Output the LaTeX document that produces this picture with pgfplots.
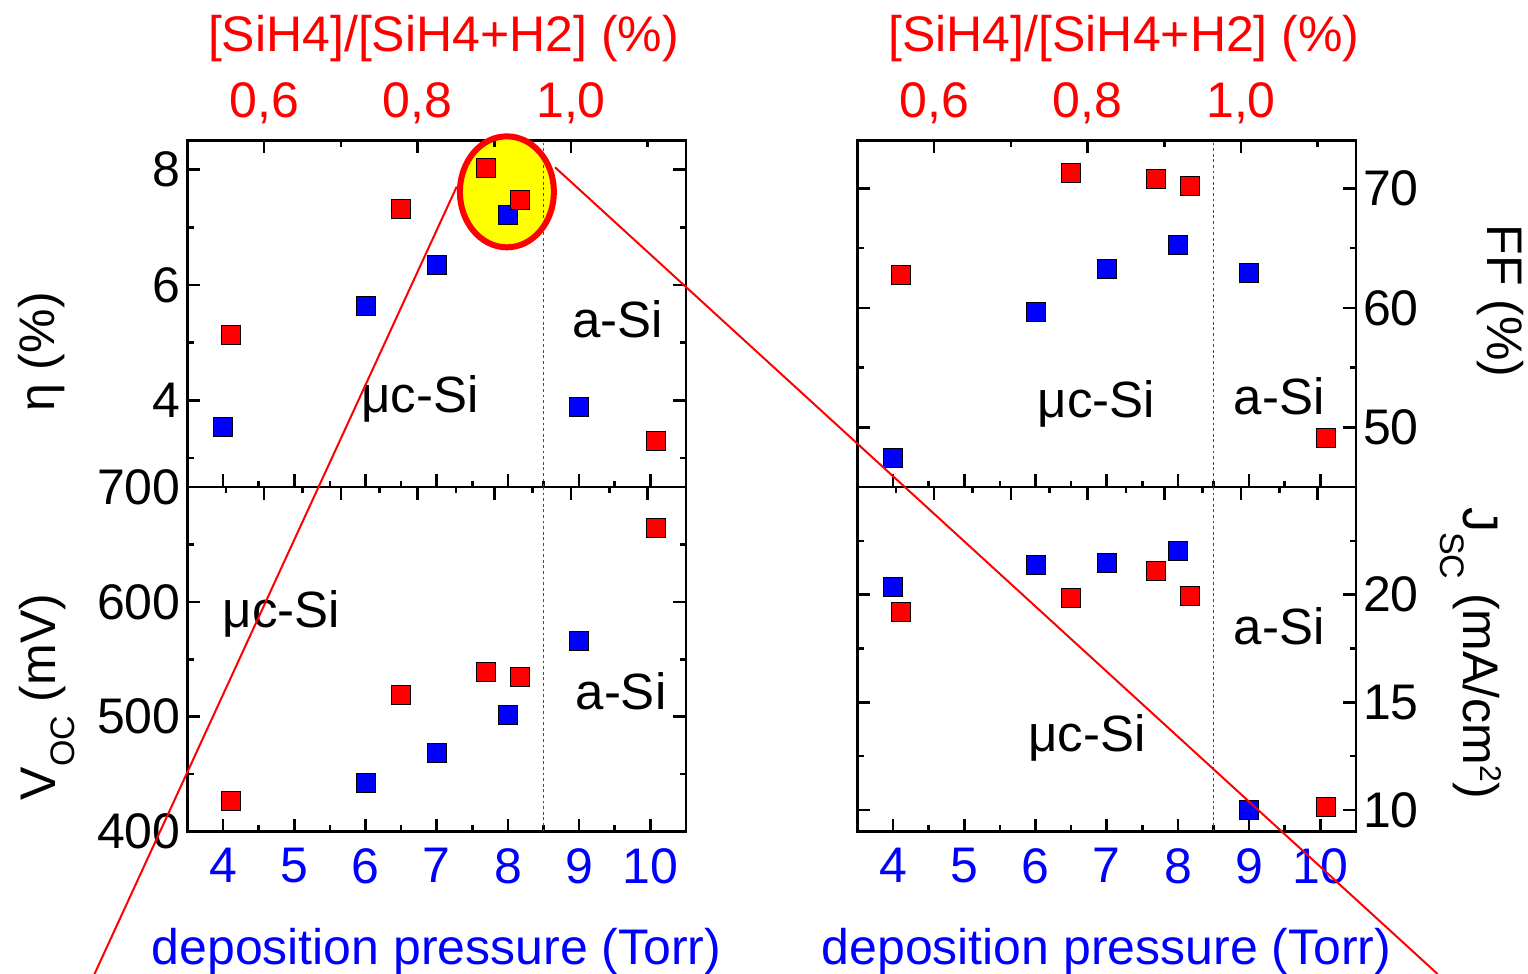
\documentclass[border=0pt]{standalone}
\usepackage{fontspec}
\setmainfont{Liberation Sans}
\usepackage{pgfplots}
\pgfplotsset{compat=1.18}

\definecolor{ptred}{RGB}{255,0,0}
\definecolor{ptblue}{RGB}{0,0,255}
\definecolor{hilite}{RGB}{255,255,0}

\newcommand{\lbl}{\fontsize{25}{30}\selectfont}
\newcommand{\phase}{\fontsize{25.5}{30}\selectfont}

\tikzset{boundary/.style={line width=0.6pt, black!70, dash pattern=on 1.4pt off 1.4pt}}

\pgfplotsset{
  panel/.style={
    scale only axis, width=249.25pt, clip=false,
    axis line style={line width=1.3pt, line cap=rect},
    tick style={line width=1.3pt, black},
    major tick length=6.3pt, minor tick length=3.2pt,
    tick label style={font=\lbl},
    /pgf/number format/assume math mode=true,
  },
  pressure/.style={panel,
    xmin=3.5, xmax=10.5,
    xtick={4,...,10}, minor xtick={4.5,5.5,...,9.5},
    xtick pos=left,
    xticklabel style={text=ptblue, yshift=-5pt},
  },
  ratio/.style={panel,
    xmin=0.5, xmax=1.15,
    xtick pos=right, xticklabel pos=right,
    hide y axis,
    axis line style={draw=none},
    xticklabel style={text=ptred, yshift=5pt},
  },
  % the upper panels carry labelled ratio ticks every 0.2
  ratio top/.style={ratio,
    xtick={0.6,0.8,1.0}, minor xtick={0.7,0.9,1.1},
    xticklabels={{0,6},{0,8},{1,0}},
  },
  % the lower panels repeat the ratio scale without labels
  ratio bottom/.style={ratio,
    xtick={0.6,0.7,...,1.1}, minor xtick={0.55,0.65,...,1.05},
    xticklabels={},
  },
  toprow/.style={height=173.15pt},
  botrow/.style={height=172.25pt},
  blue pts/.style={only marks, mark=square*, mark size=4.75pt,
    mark options={draw=none, fill=ptblue}},
  red pts/.style={only marks, mark=square*, mark size=4.75pt,
    mark options={draw=none, fill=ptred}},
}

\begin{document}
\begin{tikzpicture}
\useasboundingbox (0,0) rectangle (764pt,487pt);

% ---------- efficiency (top left) ----------
\begin{axis}[pressure, toprow, at={(93.75pt,243.5pt)}, anchor=south west,
  ymin=2.5, ymax=8.5, ytick={4,6,8}, minor ytick={3,5,7}, xticklabels={}]
  \draw[ptred, line width=3pt, fill=hilite] (axis cs:7.985,7.614)
    ellipse [x radius=23.5pt, y radius=27.75pt];
  \draw[boundary] (axis cs:8.5,2.5) -- (axis cs:8.5,8.5);
  \addplot[blue pts] coordinates {(4,3.54) (6,5.64) (7,6.35) (8,7.21) (9,3.88)};
\end{axis}
\begin{axis}[ratio top, toprow, at={(93.75pt,243.5pt)}, anchor=south west,
  ymin=2.5, ymax=8.5]
  \addplot[red pts] coordinates {(0.556,5.13) (0.778,7.31) (0.889,8.03) (0.933,7.47) (1.111,3.29)};
\end{axis}

% ---------- open-circuit voltage (bottom left) ----------
\begin{axis}[pressure, botrow, at={(93.75pt,71.25pt)}, anchor=south west,
  ymin=400, ymax=700, ytick={400,500,600,700}, minor ytick={450,550,650}]
  \draw[boundary] (axis cs:8.5,400) -- (axis cs:8.5,700);
  \addplot[blue pts] coordinates {(6,442.1) (7,468.8) (8,501.6) (9,566.0)};
\end{axis}
\begin{axis}[ratio bottom, botrow, at={(93.75pt,71.25pt)}, anchor=south west,
  ymin=400, ymax=700]
  \addplot[red pts] coordinates {(0.556,426.7) (0.778,519.0) (0.889,538.7) (0.933,534.4) (1.111,664.6)};
\end{axis}

% ---------- fill factor (top right) ----------
\begin{axis}[pressure, toprow, at={(428.75pt,243.5pt)}, anchor=south west,
  ymin=45, ymax=74, ytick={50,60,70}, minor ytick={55,65},
  yticklabel pos=right, ytick pos=both, xticklabels={}]
  \draw[boundary] (axis cs:8.5,45) -- (axis cs:8.5,74);
  \addplot[blue pts] coordinates {(4,47.44) (6,59.67) (7,63.25) (8,65.28) (9,62.97)};
\end{axis}
\begin{axis}[ratio top, toprow, at={(428.75pt,243.5pt)}, anchor=south west,
  ymin=45, ymax=74]
  \addplot[red pts] coordinates {(0.556,62.75) (0.778,71.33) (0.889,70.83) (0.933,70.22) (1.111,49.13)};
\end{axis}

% ---------- short-circuit current (bottom right) ----------
\begin{axis}[pressure, botrow, at={(428.75pt,71.25pt)}, anchor=south west,
  ymin=9, ymax=25, ytick={10,15,20}, minor ytick={12.5,17.5,22.5},
  yticklabel pos=right, ytick pos=both]
  \draw[boundary] (axis cs:8.5,9) -- (axis cs:8.5,25);
  \addplot[blue pts] coordinates {(4,20.34) (6,21.39) (7,21.49) (8,22.05) (9,10.02)};
\end{axis}
\begin{axis}[ratio bottom, botrow, at={(428.75pt,71.25pt)}, anchor=south west,
  ymin=9, ymax=25]
  \addplot[red pts] coordinates {(0.556,19.20) (0.778,19.85) (0.889,21.08) (0.933,19.94) (1.111,10.16)};
\end{axis}

% ---------- titles, phase labels and zoom guides ----------
\begin{scope}[x=0.5pt, y=-0.5pt, shift={(0pt,487pt)}]
  \node[anchor=base, text=ptred, font=\lbl] at (443.5,52) {[SiH4]/[SiH4+H2] (\%)};
  \node[anchor=base, text=ptred, font=\lbl] at (1124,52) {[SiH4]/[SiH4+H2] (\%)};
  \node[anchor=base, text=ptblue, font=\lbl] at (436.5,965) {deposition pressure (Torr)};
  \node[anchor=base, text=ptblue, font=\lbl] at (1106.5,965) {deposition pressure (Torr)};

  \node[anchor=base, rotate=90, font=\lbl] at (54,352) {η (\%)};
  \node[anchor=base, rotate=90, font=\lbl] at (55,697)
    {V\raisebox{-10pt}{\fontsize{17}{20}\selectfont OC} (mV)};
  \node[anchor=base, rotate=-90, font=\lbl] at (1487,301) {FF (\%)};
  \node[anchor=base, rotate=-90, font=\lbl] at (1463,653)
    {J\raisebox{-11.5pt}{\fontsize{17}{20}\selectfont SC} (mA/cm\raisebox{8.5pt}{\fontsize{15}{18}\selectfont 2})};

  \node[anchor=base, font=\phase] at (420,413) {μc-Si};
  \node[anchor=base, font=\phase] at (617.5,338) {a-Si};
  \node[anchor=base, font=\phase] at (281.5,628) {μc-Si};
  \node[anchor=base, font=\phase] at (621,710) {a-Si};
  \node[anchor=base, font=\phase] at (1096.5,418) {μc-Si};
  \node[anchor=base, font=\phase] at (1279,415) {a-Si};
  \node[anchor=base, font=\phase] at (1087,752) {μc-Si};
  \node[anchor=base, font=\phase] at (1279,645) {a-Si};

  \draw[ptred, line width=1pt] (94.5,974) -- (456.7,186.7);
  \draw[ptred, line width=1pt] (555,167.3) -- (1437.6,974);
\end{scope}
\end{tikzpicture}
\end{document}
